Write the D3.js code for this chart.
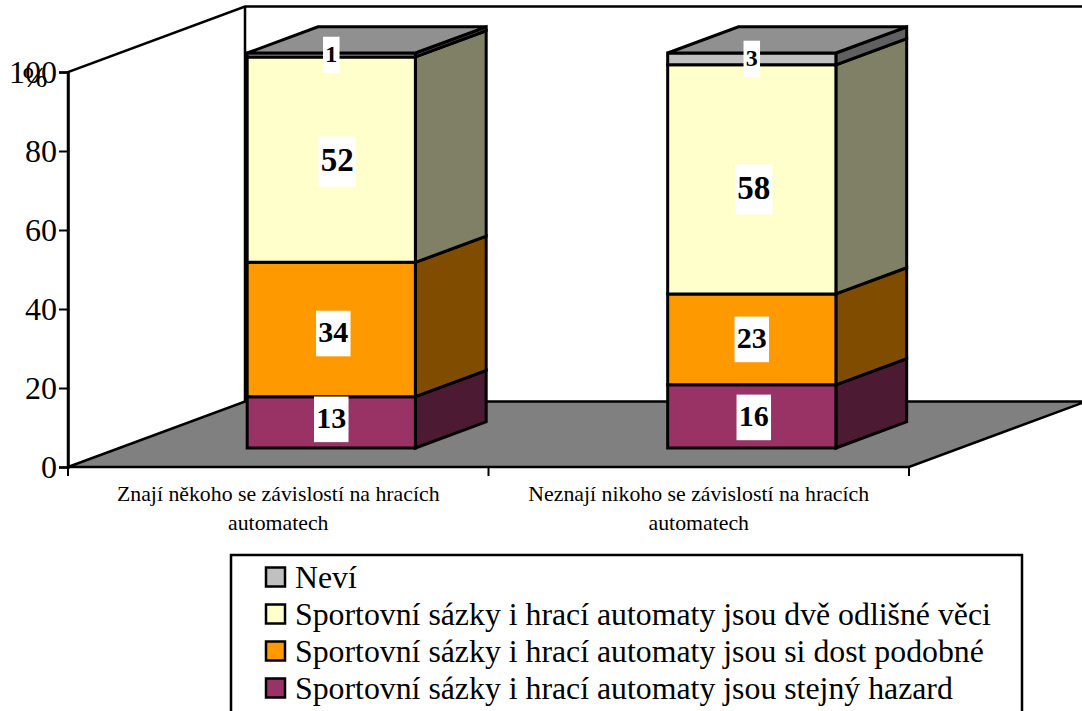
<!DOCTYPE html>
<html><head><meta charset="utf-8">
<script src="https://cdn.jsdelivr.net/npm/d3@7"></script>
<style>html,body{margin:0;padding:0;background:#fff}svg{display:block}text{font-family:"Liberation Serif","Times New Roman",serif;fill:#000}</style>
</head><body><div id="c"></div>
<script>
const categories = [["Znají někoho se závislostí na hracích","automatech"],["Neznají nikoho se závislostí na hracích","automatech"]];
const stejny = [13,16];
const podobne = [34,23];
const odlisne = [52,58];
const nevi = [1,3];
const seriesNames = ["Sportovní sázky i hrací automaty jsou stejný hazard","Sportovní sázky i hrací automaty jsou si dost podobné","Sportovní sázky i hrací automaty jsou dvě odlišné věci","Neví"];
const frontColors = ["#993366","#ff9900","#ffffcc","#c0c0c0"];
const sideColors = ["#4d1a33","#804d00","#808066","#606060"];
const yTicks = [0,20,40,60,80,100];

const W=1082,H=711;
const svg=d3.select("#c").append("svg").attr("width",W).attr("height",H);
const y=d3.scaleLinear().domain([0,100]).range([467,72]);
const x=d3.scaleBand().domain([0,1]).range([68,909]).paddingInner(0.6).paddingOuter(0.3);
const DX=177,DY=-65.5;
const P=(px,v,d)=>[px+d*DX,y(v)+d*DY];
const poly=(pts,fill,sw=3)=>svg.append("polygon").attr("points",pts.map(p=>p.join(",")).join(" "))
  .attr("fill",fill).attr("stroke","#000").attr("stroke-width",sw).attr("stroke-linejoin","miter");
const x0=x.range()[0],x1=x.range()[1];

// walls
svg.append("polyline").attr("points",[P(x0,0,0),P(x0,100,0),P(x0,100,1),P(x1,100,1)].map(p=>p.join(",")).join(" ")).attr("fill","none").attr("stroke","#000").attr("stroke-width",2.5);
svg.append("line").attr("x1",P(x0,0,1)[0]).attr("x2",P(x0,0,1)[0]).attr("y1",P(x0,0,1)[1]).attr("y2",P(x0,100,1)[1]).attr("stroke","#000").attr("stroke-width",2.5);
poly([P(x0,0,0),P(x1,0,0),P(x1,0,1),P(x0,0,1)],"#808080",2.5);

// axes
const ay=d3.axisLeft(y).tickValues(yTicks).tickSize(9).tickPadding(2);
const gy=svg.append("g").attr("transform",`translate(${x0},0)`).call(ay);
gy.select(".domain").attr("stroke-width",2.5);
gy.selectAll(".tick line").attr("stroke-width",2);
gy.selectAll("text").attr("font-size",32).attr("fill","#000");
svg.append("text").attr("x",35).attr("y",87).attr("text-anchor","middle").attr("font-size",30).text("%");
const tx=[x0,(x0+x1)/2,x1];
svg.selectAll(".xt").data(tx).join("line").attr("x1",d=>d).attr("x2",d=>d).attr("y1",467).attr("y2",476).attr("stroke","#000").attr("stroke-width",2);
categories.forEach((c,i)=>{
  const cx=x(i)+x.bandwidth()/2;
  c.forEach((ln,j)=>svg.append("text").attr("x",cx).attr("y",501+j*29).attr("text-anchor","middle").attr("font-size",21.8).text(ln));
});

// bars
const D0=0.29,D1=0.69,SHIFT=1.7;
const seriesVals=[stejny,podobne,odlisne,nevi];
const labels=[];
categories.forEach((c,i)=>{
  let acc=0;
  const L=x(i)+SHIFT,R=L+x.bandwidth();
  seriesVals.forEach((s,k)=>{
    const v=s[i],a=acc,b=acc+v;acc=b;
    poly([P(R,a,D0),P(R,a,D1),P(R,b,D1),P(R,b,D0)],sideColors[k]);
    poly([P(L,a,D0),P(R,a,D0),P(R,b,D0),P(L,b,D0)],frontColors[k]);
    if(k===3) poly([P(L,b,D0),P(R,b,D0),P(R,b,D1),P(L,b,D1)],"#909090");
    labels.push({v,cx:(L+R)/2,a,b,k,i});
  });
});
// label offsets from the segment centre, [dx,dy] per series per bar
const nudge=[[[0,-3],[2,1]],[[2,4],[0,0]],[[6,2],[2,10]],[[0,0],[0,0]]];
labels.forEach(l=>{
  const p=P(l.cx,(l.a+l.b)/2,D0);
  const fs=l.k===3?24:(l.k===2?33:30);
  const [ndx,ndy]=nudge[l.k][l.i];
  const cx=p[0]+ndx,cy=p[1]+ndy;
  const g=svg.append("g");
  const t=g.append("text").attr("x",cx).attr("y",cy+fs*0.28).attr("text-anchor","middle").attr("font-weight","bold").attr("font-size",fs).text(l.v);
  const bw=t.node().getComputedTextLength()+4.5,bh=fs*1.52;
  g.insert("rect","text").attr("x",cx-bw/2).attr("y",cy-bh/2).attr("width",bw).attr("height",bh).attr("fill","#fff");
});

// legend
svg.append("rect").attr("x",231).attr("y",555).attr("width",791).attr("height",170).attr("fill","#fff").attr("stroke","#000").attr("stroke-width",2.5);
const order=[3,2,1,0];
order.forEach((k,i)=>{
  const cy=577+i*37;
  svg.append("rect").attr("x",266).attr("y",cy-9.5).attr("width",19).attr("height",19).attr("fill",frontColors[k]).attr("stroke","#000").attr("stroke-width",2.5);
  svg.append("text").attr("x",295).attr("y",cy+11).attr("font-size",31.8).text(seriesNames[k]);
});
</script></body></html>
